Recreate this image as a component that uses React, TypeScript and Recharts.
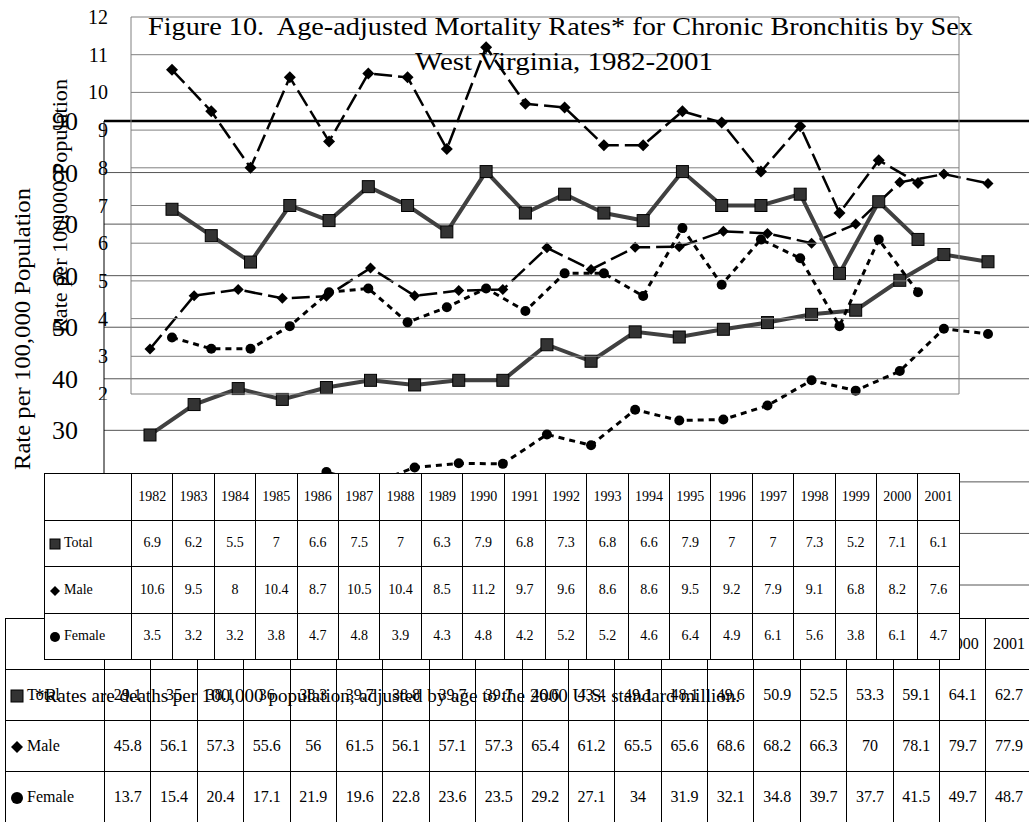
import { CartesianGrid, Line, LineChart, ReferenceLine, XAxis, YAxis } from "recharts";

const FONT = '"Liberation Serif", "Times New Roman", serif';

const years = ["1982", "1983", "1984", "1985", "1986", "1987", "1988", "1989", "1990", "1991",
    "1992", "1993", "1994", "1995", "1996", "1997", "1998", "1999", "2000", "2001"];

// chronic bronchitis (front chart)
const bronchTotal = [6.9, 6.2, 5.5, 7, 6.6, 7.5, 7, 6.3, 7.9, 6.8, 7.3, 6.8, 6.6, 7.9, 7, 7, 7.3, 5.2, 7.1, 6.1];
const bronchMale = [10.6, 9.5, 8, 10.4, 8.7, 10.5, 10.4, 8.5, 11.2, 9.7, 9.6, 8.6, 8.6, 9.5, 9.2, 7.9, 9.1, 6.8, 8.2, 7.6];
const bronchFemale = [3.5, 3.2, 3.2, 3.8, 4.7, 4.8, 3.9, 4.3, 4.8, 4.2, 5.2, 5.2, 4.6, 6.4, 4.9, 6.1, 5.6, 3.8, 6.1, 4.7];
const bronchTicks = [2, 3, 4, 5, 6, 7, 8, 9, 10, 11, 12];

// chart underneath
const backTotal = [29.1, 35, 38.1, 36, 38.3, 39.7, 38.8, 39.7, 39.7, 46.6, 43.4, 49.1, 48.1, 49.6, 50.9, 52.5, 53.3, 59.1, 64.1, 62.7];
const backMale = [45.8, 56.1, 57.3, 55.6, 56, 61.5, 56.1, 57.1, 57.3, 65.4, 61.2, 65.5, 65.6, 68.6, 68.2, 66.3, 70, 78.1, 79.7, 77.9];
const backFemale = [13.7, 15.4, 20.4, 17.1, 21.9, 19.6, 22.8, 23.6, 23.5, 29.2, 27.1, 34, 31.9, 32.1, 34.8, 39.7, 37.7, 41.5, 49.7, 48.7];
const backTicks = [10, 20, 30, 40, 50, 60, 70, 80, 90];

const bronchRows = years.map((year, i) => ({year, total: bronchTotal[i], male: bronchMale[i], female: bronchFemale[i]}));
const backRows = years.map((year, i) => ({year, total: backTotal[i], male: backMale[i], female: backFemale[i]}));

const squareDot = (size: number) => (p: any) => p.cx == null ? null :
    <rect key={`sq-${p.index}`} x={p.cx - size / 2} y={p.cy - size / 2} width={size} height={size}
          fill="#333" stroke="#000" strokeWidth={1}/>;
const diamondDot = (size: number) => (p: any) => p.cx == null ? null :
    <polygon key={`dm-${p.index}`} fill="#000"
             points={`${p.cx},${p.cy - size / 2} ${p.cx + size / 2},${p.cy} ${p.cx},${p.cy + size / 2} ${p.cx - size / 2},${p.cy}`}/>;
const circleDot = (r: number) => (p: any) => p.cx == null ? null :
    <circle key={`ci-${p.index}`} cx={p.cx} cy={p.cy} r={r} fill="#000"/>;

// serif tick labels, right aligned against the axis
const serifTick = (size: number) => (p: any) =>
    <text key={`t-${p.payload.value}`} x={p.x} y={p.y} dy="0.35em" textAnchor="end" fill="#000"
          fontFamily="Liberation Serif" fontSize={size}
          style={{fontFamily: FONT, fontSize: size}}>{p.payload.value}</text>;

const Marker = ({kind, size}: { kind: string, size: number }) => {
    const h = size / 2;
    return <svg width={size + 2} height={size + 2} style={{verticalAlign: "middle", marginRight: 3}}>
        {kind === "total" && <rect x={1} y={1} width={size} height={size} fill="#333" stroke="#000"/>}
        {kind === "male" && <polygon points={`${h + 1},1 ${size + 1},${h + 1} ${h + 1},${size + 1} 1,${h + 1}`} fill="#000"/>}
        {kind === "female" && <circle cx={h + 1} cy={h + 1} r={h} fill="#000"/>}
    </svg>;
};

const DataTable = ({rows, labelWidth, colWidth, rowHeight, fontSize, markerSize, style}: any) => {
    const series = [["total", "Total"], ["male", "Male"], ["female", "Female"]];
    const cell = {border: "1px solid #000", textAlign: "center" as const, padding: 0, fontSize};
    return <table style={{
        position: "absolute", borderCollapse: "collapse", tableLayout: "fixed", background: "#fff",
        width: labelWidth + colWidth * years.length, fontFamily: FONT, ...style
    }}>
        <colgroup>
            <col style={{width: labelWidth}}/>
            {years.map(y => <col key={y} style={{width: colWidth}}/>)}
        </colgroup>
        <tbody>
        <tr style={{height: rowHeight}}>
            <td style={cell}/>
            {years.map(y => <td key={y} style={cell}>{y}</td>)}
        </tr>
        {series.map(([key, name]) => <tr key={key} style={{height: rowHeight}}>
            <td style={{...cell, textAlign: "left", paddingLeft: 4}}><Marker kind={key} size={markerSize}/>{name}</td>
            {rows.map((r: any) => <td key={r.year} style={cell}>{r[key]}</td>)}
        </tr>)}
        </tbody>
    </table>;
};

export default function App() {
    return <div style={{
        position: "absolute", left: 0, top: 0, width: 1029, height: 822, overflow: "hidden",
        background: "#fff", fontFamily: FONT
    }}>
        {/* chart underneath, 0-90 scale */}
        <div style={{position: "absolute", left: 0, top: 0}}>
            <LineChart width={1040} height={600} data={backRows} margin={{top: 121, right: 6, bottom: 15, left: 78}}>
                <CartesianGrid horizontal vertical={false} stroke="#555"/>
                <XAxis dataKey="year" hide padding={{left: 46, right: 46}}/>
                <YAxis domain={[0, 90]} ticks={backTicks} interval={0} width={26} axisLine={{stroke: "#000"}}
                       tickLine={false} tickSize={0} tickMargin={26} tick={serifTick(26)}/>
                <ReferenceLine y={90} stroke="#000" strokeWidth={2.5}/>
                <Line dataKey="total" stroke="#404040" strokeWidth={4} dot={squareDot(12)} activeDot={false}
                      isAnimationActive={false}/>
                <Line dataKey="male" stroke="#000" strokeWidth={2.5} strokeDasharray="18 6" dot={diamondDot(11)}
                      activeDot={false} isAnimationActive={false}/>
                <Line dataKey="female" stroke="#000" strokeWidth={3} strokeDasharray="6 5" dot={circleDot(5)}
                      activeDot={false} isAnimationActive={false}/>
            </LineChart>
        </div>

        <DataTable rows={backRows} labelWidth={99} colWidth={46.4} rowHeight={51} fontSize={16} markerSize={12}
                   style={{left: 5, top: 618}}/>

        {/* chronic bronchitis chart */}
        <div style={{position: "absolute", left: 0, top: 0}}>
            <LineChart width={970} height={400} data={bronchRows} margin={{top: 17, right: 11, bottom: 6, left: 91}}>
                <CartesianGrid horizontal stroke="#808080"
                               verticalCoordinatesGenerator={({offset}: any) => [offset.left, offset.left + offset.width]}/>
                <XAxis dataKey="year" hide padding={{left: 41, right: 41}}/>
                <YAxis domain={[2, 12]} ticks={bronchTicks} interval={0} width={40} axisLine={false}
                       tickLine={false} tickSize={0} tickMargin={23} tick={serifTick(20)}/>
                <Line dataKey="total" stroke="#404040" strokeWidth={4} dot={squareDot(12)} activeDot={false}
                      isAnimationActive={false}/>
                <Line dataKey="male" stroke="#000" strokeWidth={2.5} strokeDasharray="18 6" dot={diamondDot(12)}
                      activeDot={false} isAnimationActive={false}/>
                <Line dataKey="female" stroke="#000" strokeWidth={3} strokeDasharray="6 5" dot={circleDot(5)}
                      activeDot={false} isAnimationActive={false}/>
            </LineChart>
        </div>

        <DataTable rows={bronchRows} labelWidth={87} colWidth={41.4} rowHeight={46.5} fontSize={14} markerSize={10}
                   style={{left: 44, top: 473}}/>

        <svg width={1029} height={822} style={{position: "absolute", left: 0, top: 0, pointerEvents: "none", fontFamily: FONT}}
             fill="#000">
            <text x={148} y={35} style={{fontSize: 26, whiteSpace: "pre"}} textLength={825} lengthAdjust="spacingAndGlyphs">
                Figure 10.  Age-adjusted Mortality Rates* for Chronic Bronchitis by Sex
            </text>
            <text x={415} y={70} style={{fontSize: 26}} textLength={298} lengthAdjust="spacingAndGlyphs">
                West Virginia, 1982-2001
            </text>
            <text x={67} y={333} style={{fontSize: 22}} transform="rotate(-90 67 333)" textLength={254}
                  lengthAdjust="spacingAndGlyphs">
                Rate per 100,000 Population
            </text>
            <text x={30} y={470} style={{fontSize: 24}} transform="rotate(-90 30 470)" textLength={282}
                  lengthAdjust="spacingAndGlyphs">
                Rate per 100,000 Population
            </text>
            <text x={35} y={702} style={{fontSize: 19}} textLength={705} lengthAdjust="spacingAndGlyphs">
                *Rates are deaths per 100,000 population, adjusted by age to the 2000 U.S. standard million.
            </text>
        </svg>
    </div>;
}
